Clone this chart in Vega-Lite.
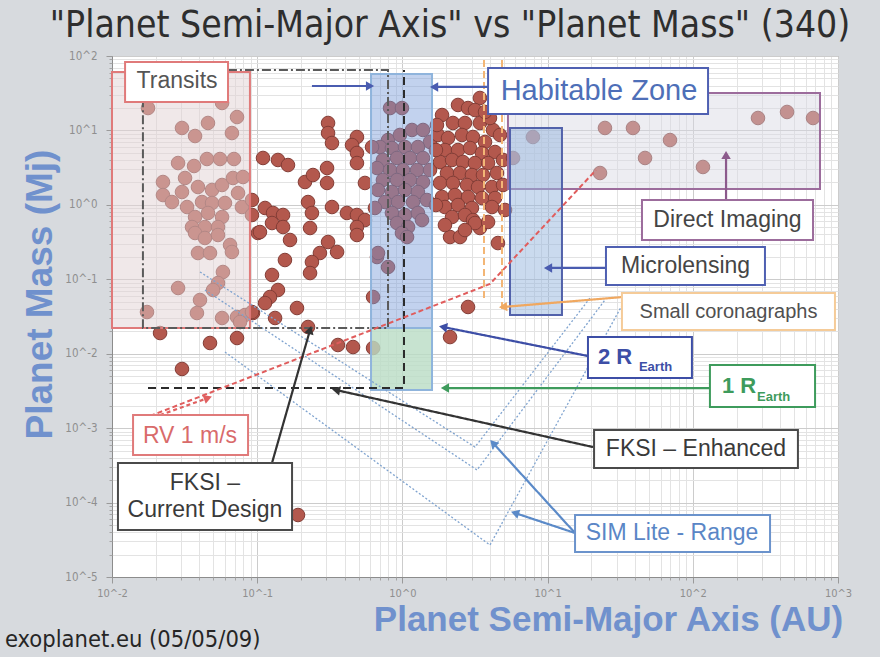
{
  "$schema": "https://vega.github.io/schema/vega-lite/v6.json",
  "width": 726,
  "height": 521,
  "autosize": {"type": "none"},
  "padding": {"left": 112, "top": 56, "right": 42, "bottom": 80},
  "background": "#d7dade",
  "title": {"text": "\"Planet Semi-Major Axis\"  vs \"Planet Mass\" (340)", "font": "Liberation Sans Narrow, DejaVu Sans Condensed, sans-serif", "fontSize": 37, "fontWeight": "normal", "color": "#2e2e2e", "anchor": "middle", "dx": -25, "offset": 5},
  "config": {"view": {"fill": "#ffffff", "stroke": "#a5a5a5"}},
  "resolve": {"scale": {"color": "independent", "stroke": "independent", "fill": "independent", "strokeDash": "independent"}, "axis": {"x": "independent", "y": "independent"}},
  "datasets": {
    "planets": [
      {"logA":-1.752,"logM":1.301},{"logA":-1.242,"logM":1.369},{"logA":-1.139,"logM":1.180},{"logA":-1.339,"logM":1.100},{"logA":-1.518,"logM":1.033},{"logA":-1.428,"logM":0.925},{"logA":-1.174,"logM":0.965},{"logA":-1.545,"logM":0.562},{"logA":-1.435,"logM":0.522},{"logA":-1.346,"logM":0.616},{"logA":-1.256,"logM":0.616},{"logA":-1.160,"logM":0.616},{"logA":-1.649,"logM":0.307},{"logA":-1.497,"logM":0.361},{"logA":-1.518,"logM":0.173},{"logA":-1.408,"logM":0.240},{"logA":-1.311,"logM":0.200},{"logA":-1.242,"logM":0.267},{"logA":-1.167,"logM":0.361},{"logA":-1.098,"logM":0.374},{"logA":-1.649,"logM":0.132},{"logA":-1.587,"logM":0.038},{"logA":-1.483,"logM":-0.029},{"logA":-1.380,"logM":0.038},{"logA":-1.311,"logM":0.025},{"logA":-1.222,"logM":0.025},{"logA":-1.132,"logM":0.159},{"logA":-1.105,"logM":-0.029},{"logA":-1.428,"logM":-0.163},{"logA":-1.339,"logM":-0.109},{"logA":-1.242,"logM":-0.163},{"logA":-1.449,"logM":-0.298},{"logA":-1.360,"logM":-0.298},{"logA":-1.270,"logM":-0.298},{"logA":-1.428,"logM":-0.378},{"logA":-1.360,"logM":-0.445},{"logA":-1.270,"logM":-0.405},{"logA":-1.187,"logM":-0.539},{"logA":-1.174,"logM":-0.633},{"logA":-1.408,"logM":-0.647},{"logA":-1.325,"logM":-0.647},{"logA":-1.236,"logM":-0.902},{"logA":-1.270,"logM":-1.050},{"logA":-1.304,"logM":-1.144},{"logA":-1.545,"logM":-1.117},{"logA":-1.394,"logM":-1.278},{"logA":-1.415,"logM":-1.453},{"logA":-1.759,"logM":-1.440},{"logA":-1.242,"logM":-1.520},{"logA":-1.139,"logM":-1.507},{"logA":-1.084,"logM":-1.480},{"logA":-1.118,"logM":-1.574},
      {"logA":-1.669,"logM":-1.722},{"logA":-1.139,"logM":-1.789},{"logA":-1.325,"logM":-1.856},{"logA":-1.518,"logM":-2.205},{"logA":-0.719,"logM":-4.167},{"logA":-0.995,"logM":-0.378},
      {"logA":-0.512,"logM":1.100},{"logA":-0.512,"logM":0.965},{"logA":-0.485,"logM":0.831},{"logA":-0.313,"logM":0.912},{"logA":-0.347,"logM":0.804},{"logA":-0.313,"logM":0.697},{"logA":-0.313,"logM":0.562},{"logA":-0.960,"logM":0.630},{"logA":-0.857,"logM":0.603},{"logA":-0.788,"logM":0.535},{"logA":-0.671,"logM":0.307},{"logA":-0.616,"logM":0.401},{"logA":-0.519,"logM":0.495},{"logA":-0.519,"logM":0.294},{"logA":-0.258,"logM":0.294},{"logA":-1.036,"logM":0.065},{"logA":-1.036,"logM":-0.136},{"logA":-0.946,"logM":-0.042},{"logA":-0.891,"logM":-0.109},{"logA":-0.822,"logM":-0.136},{"logA":-0.898,"logM":-0.244},{"logA":-0.822,"logM":-0.298},{"logA":-0.981,"logM":-0.365},{"logA":-0.774,"logM":-0.472},{"logA":-0.650,"logM":0.038},{"logA":-0.623,"logM":-0.109},{"logA":-0.636,"logM":-0.311},{"logA":-0.485,"logM":-0.029},{"logA":-0.382,"logM":-0.109},{"logA":-0.313,"logM":-0.136},{"logA":-0.258,"logM":-0.204},{"logA":-0.313,"logM":-0.298},{"logA":-0.313,"logM":-0.405},{"logA":-0.512,"logM":-0.499},{"logA":-0.450,"logM":-0.633},{"logA":-0.568,"logM":-0.647},{"logA":-0.623,"logM":-0.768},{"logA":-0.636,"logM":-0.916},{"logA":-0.809,"logM":-0.741},{"logA":-0.898,"logM":-0.942},{"logA":-0.857,"logM":-1.144},{"logA":-0.912,"logM":-1.238},{"logA":-0.946,"logM":-1.319},{"logA":-1.029,"logM":-1.453},{"logA":-0.877,"logM":-1.520},{"logA":-0.726,"logM":-1.386},{"logA":-0.650,"logM":-1.641},{"logA":-0.444,"logM":-1.883},{"logA":-0.340,"logM":-1.910},{"logA":-0.202,"logM":-1.238},{"logA":-0.202,"logM":-1.923},{"logA":-0.175,"logM":-0.701},{"logA":-0.099,"logM":-0.835},{"logA":-1.036,"logM":-1.440},
      {"logA":-0.085,"logM":1.301},{"logA":-0.003,"logM":1.301},{"logA":-0.099,"logM":0.871},{"logA":-0.017,"logM":0.939},{"logA":0.066,"logM":1.006},{"logA":0.142,"logM":1.006},{"logA":0.190,"logM":0.845},{"logA":-0.154,"logM":0.777},{"logA":-0.209,"logM":0.777},{"logA":-0.072,"logM":0.764},{"logA":0.018,"logM":0.777},{"logA":0.107,"logM":0.777},{"logA":-0.134,"logM":0.603},{"logA":-0.037,"logM":0.630},{"logA":0.052,"logM":0.630},{"logA":0.142,"logM":0.630},{"logA":-0.175,"logM":0.495},{"logA":-0.085,"logM":0.468},{"logA":0.004,"logM":0.468},{"logA":0.101,"logM":0.468},{"logA":0.190,"logM":0.468},{"logA":-0.134,"logM":0.334},{"logA":-0.037,"logM":0.334},{"logA":0.052,"logM":0.334},{"logA":0.142,"logM":0.307},{"logA":-0.168,"logM":0.200},{"logA":-0.072,"logM":0.173},{"logA":0.018,"logM":0.200},{"logA":0.107,"logM":0.173},{"logA":-0.120,"logM":0.038},{"logA":-0.030,"logM":0.038},{"logA":0.073,"logM":0.038},{"logA":0.169,"logM":0.065},{"logA":-0.189,"logM":-0.042},{"logA":-0.072,"logM":-0.109},{"logA":0.018,"logM":-0.136},{"logA":0.107,"logM":-0.109},{"logA":-0.037,"logM":-0.244},{"logA":0.039,"logM":-0.298},{"logA":0.135,"logM":-0.204},{"logA":-0.003,"logM":-0.378},{"logA":0.032,"logM":-0.432},{"logA":-0.168,"logM":-0.647},
      {"logA":0.383,"logM":1.342},{"logA":0.452,"logM":1.301},{"logA":0.534,"logM":1.436},{"logA":0.500,"logM":1.274},{"logA":0.273,"logM":1.207},{"logA":0.348,"logM":1.100},{"logA":0.431,"logM":1.100},{"logA":0.534,"logM":1.100},{"logA":0.624,"logM":1.006},{"logA":0.672,"logM":0.939},{"logA":0.245,"logM":0.939},{"logA":0.314,"logM":0.898},{"logA":0.410,"logM":0.939},{"logA":0.486,"logM":0.912},{"logA":0.569,"logM":0.845},{"logA":0.293,"logM":0.737},{"logA":0.383,"logM":0.737},{"logA":0.466,"logM":0.764},{"logA":0.548,"logM":0.697},{"logA":0.638,"logM":0.710},{"logA":0.259,"logM":0.576},{"logA":0.342,"logM":0.603},{"logA":0.417,"logM":0.576},{"logA":0.500,"logM":0.562},{"logA":0.590,"logM":0.562},{"logA":0.307,"logM":0.428},{"logA":0.397,"logM":0.428},{"logA":0.479,"logM":0.401},{"logA":0.555,"logM":0.401},{"logA":0.651,"logM":0.428},{"logA":0.259,"logM":0.294},{"logA":0.348,"logM":0.294},{"logA":0.445,"logM":0.267},{"logA":0.521,"logM":0.240},{"logA":0.617,"logM":0.240},{"logA":0.273,"logM":0.106},{"logA":0.362,"logM":0.132},{"logA":0.452,"logM":0.106},{"logA":0.548,"logM":0.092},{"logA":0.638,"logM":0.092},{"logA":0.293,"logM":-0.029},{"logA":0.383,"logM":-0.002},{"logA":0.479,"logM":-0.042},{"logA":0.342,"logM":-0.163},{"logA":0.431,"logM":-0.136},{"logA":0.486,"logM":-0.204},{"logA":0.617,"logM":-0.029},{"logA":0.534,"logM":-0.311},{"logA":0.500,"logM":-0.244},{"logA":0.328,"logM":-0.432},{"logA":0.397,"logM":-0.432},{"logA":0.658,"logM":-0.513},
      {"logA":0.238,"logM":1.073},{"logA":0.603,"logM":1.167},{"logA":0.693,"logM":0.603},{"logA":0.693,"logM":0.267},{"logA":0.231,"logM":0.737},{"logA":0.231,"logM":-0.002},{"logA":0.293,"logM":-0.271},{"logA":0.431,"logM":-0.338},{"logA":0.590,"logM":-0.230},{"logA":0.707,"logM":-0.069},{"logA":0.569,"logM":1.248},
      {"logA":0.899,"logM":0.912},{"logA":0.762,"logM":0.630},{"logA":1.395,"logM":1.033},{"logA":1.588,"logM":1.033},{"logA":1.671,"logM":0.630},{"logA":1.361,"logM":0.428},{"logA":1.843,"logM":0.871},{"logA":2.070,"logM":0.509},{"logA":2.449,"logM":1.167},{"logA":2.649,"logM":1.248},{"logA":2.828,"logM":1.167},{"logA":0.452,"logM":-1.372},{"logA":0.328,"logM":-1.776}
    ],
    "regions": [
      {"name":"transits","x1":-2,"x2":-1.050,"y1":1.785,"y2":-1.655},
      {"name":"hz","x1":-0.216,"x2":0.204,"y1":1.758,"y2":-1.655},
      {"name":"earth","x1":-0.216,"x2":0.204,"y1":-1.655,"y2":-2.488},
      {"name":"di","x1":0.727,"x2":2.876,"y1":1.503,"y2":0.213},
      {"name":"micro","x1":0.741,"x2":1.099,"y1":1.033,"y2":-1.480}
    ],
    "paths": [
      {"name":"fksic","o":0,"x":-1.787,"y":1.812},{"name":"fksic","o":1,"x":-0.099,"y":1.812},{"name":"fksic","o":2,"x":-0.099,"y":-1.655},{"name":"fksic","o":3,"x":-1.787,"y":-1.655},{"name":"fksic","o":4,"x":-1.787,"y":1.812},
      {"name":"fksie","o":0,"x":-1.752,"y":-2.461},{"name":"fksie","o":1,"x":0.011,"y":-2.461},{"name":"fksie","o":2,"x":0.011,"y":1.812},
      {"name":"rv","o":0,"x":-1.738,"y":-2.837},{"name":"rv","o":1,"x":0.603,"y":-1.063},{"name":"rv","o":2,"x":1.333,"y":0.468}
    ],
    "sim": [
      {"v":"1","o":0,"x":-1.394,"y":-0.902},{"v":"1","o":1,"x":0.500,"y":-3.254},{"v":"1","o":2,"x":1.292,"y":-1.252},
      {"v":"2","o":0,"x":-1.360,"y":-1.144},{"v":"2","o":1,"x":0.514,"y":-3.562},{"v":"2","o":2,"x":1.395,"y":-1.278},
      {"v":"3","o":0,"x":-1.222,"y":-1.977},{"v":"3","o":1,"x":0.603,"y":-4.570},{"v":"3","o":2,"x":1.533,"y":-1.278}
    ],
    "coronagraph": [
      {"x":0.562,"y1":1.946,"y2":-1.278},{"x":0.686,"y1":1.946,"y2":-1.453}
    ],
    "boxes": [
      {"name":"transits","x1":-1.910,"x2":-1.201,"y1":1.919,"y2":1.382},
      {"name":"hz","x1":0.590,"x2":2.105,"y1":1.839,"y2":1.221},
      {"name":"micro","x1":1.402,"x2":2.497,"y1":-0.566,"y2":-1.077},
      {"name":"di","x1":1.650,"x2":2.828,"y1":0.065,"y2":-0.472},
      {"name":"smallcor","x1":1.512,"x2":2.979,"y1":-1.184,"y2":-1.681},
      {"name":"r2","x1":1.278,"x2":1.994,"y1":-1.776,"y2":-2.326},
      {"name":"r1","x1":2.118,"x2":2.842,"y1":-2.152,"y2":-2.716},
      {"name":"fksie","x1":1.320,"x2":2.724,"y1":-3.025,"y2":-3.536},
      {"name":"fksic","x1":-1.959,"x2":-0.760,"y1":-3.468,"y2":-4.369},
      {"name":"rv","x1":-1.855,"x2":-1.063,"y1":-2.824,"y2":-3.361},
      {"name":"sim","x1":1.189,"x2":2.532,"y1":-4.167,"y2":-4.664}
    ],
    "arrows": [
      {"name":"hz","x1":0.590,"y1":1.584,"x2":0.218,"y2":1.584,"dir":180},
      {"name":"hz","x1":-0.623,"y1":1.597,"x2":-0.223,"y2":1.597,"dir":0},
      {"name":"micro","x1":1.402,"y1":-0.848,"x2":1.003,"y2":-0.848,"dir":180},
      {"name":"di","x1":2.229,"y1":0.065,"x2":2.229,"y2":0.670,"dir":270},
      {"name":"smallcor","x1":1.519,"y1":-1.238,"x2":0.693,"y2":-1.372,"dir":175},
      {"name":"r2","x1":1.278,"y1":-2.031,"x2":0.280,"y2":-1.641,"dir":191},
      {"name":"r1","x1":2.118,"y1":-2.461,"x2":0.293,"y2":-2.461,"dir":180},
      {"name":"fksie","x1":1.313,"y1":-3.254,"x2":-0.457,"y2":-2.488,"dir":192},
      {"name":"fksic","x1":-0.898,"y1":-3.468,"x2":-0.636,"y2":-1.681,"dir":286},
      {"name":"rv","x1":-1.669,"y1":-2.824,"x2":-1.339,"y2":-2.595,"dir":340},
      {"name":"sim","x1":1.189,"y1":-4.409,"x2":0.624,"y2":-3.200,"dir":228},
      {"name":"sim","x1":1.189,"y1":-4.409,"x2":0.775,"y2":-4.140,"dir":198}
    ],
    "labels": [
      {"name":"transits","text":"Transits","x":-1.552,"y":1.664},
      {"name":"hz","text":"Habitable Zone","x":1.354,"y":1.530},
      {"name":"micro","text":"Microlensing","x":1.950,"y":-0.822},
      {"name":"di","text":"Direct Imaging","x":2.239,"y":-0.204},
      {"name":"smallcor","text":"Small coronagraphs","x":2.246,"y":-1.433},
      {"name":"fksie","text":"FKSI – Enhanced","x":2.022,"y":-3.280},
      {"name":"fksic","text":"FKSI –\nCurrent Design","x":-1.360,"y":-3.740},
      {"name":"rv","text":"RV 1 m/s","x":-1.463,"y":-3.106},
      {"name":"sim","text":"SIM Lite - Range","x":1.857,"y":-4.409},
      {"name":"r2","text":"2  R","x":1.347,"y":-2.044},
      {"name":"r1","text":"1 R","x":2.201,"y":-2.434},
      {"name":"r2sub","text":"Earth","x":1.629,"y":-2.179},
      {"name":"r1sub","text":"Earth","x":2.442,"y":-2.582},
      {"name":"footer","text":"exoplanet.eu (05/05/09)","x":-2.737,"y":-5.847}
    ]
  },
  "layer": [
    {
      "data": {"name": "planets"},
      "mark": {"type": "circle", "size": 185, "fill": "#b3584d", "stroke": "#833d36", "strokeWidth": 1, "opacity": 1},
      "encoding": {
        "x": {"field": "logA", "type": "quantitative", "scale": {"domain": [-2, 3], "nice": false, "zero": false},
          "axis": {"orient": "bottom", "title": "Planet Semi-Major Axis (AU)", "titleFont": "Liberation Sans, sans-serif", "titleFontSize": 35, "titleFontWeight": "bold", "titleColor": "#7091cd", "titleX": 496, "titleY": 42, "titleAlign": "center", "titleBaseline": "middle",
            "values": [-2, -1, 0, 1, 2, 3],
            "labelExpr": "'10^' + round(datum.value)",
            "labelFont": "Liberation Sans Narrow, DejaVu Sans Condensed, sans-serif", "labelFontSize": 11, "labelColor": "#8f8f8f", "labelPadding": 4, "labelOverlap": false, "labelFlush": false,
            "grid": true, "gridColor": "#cccccc", "tickColor": "#9a9a9a", "tickSize": 6, "domainColor": "#8c8c8c"}},
        "y": {"field": "logM", "type": "quantitative", "scale": {"domain": [-5, 2], "nice": false, "zero": false},
          "axis": {"orient": "left", "title": "Planet Mass (Mj)", "titleFont": "Liberation Sans, sans-serif", "titleFontSize": 37, "titleFontWeight": "bold", "titleColor": "#7091cd", "titleX": -72, "titleY": 238, "titleAlign": "center", "titleBaseline": "middle", "titleAngle": -90,
            "values": [-5, -4, -3, -2, -1, 0, 1, 2],
            "labelExpr": "'10^' + round(datum.value)",
            "labelFont": "Liberation Sans Narrow, DejaVu Sans Condensed, sans-serif", "labelFontSize": 11.5, "labelColor": "#8f8f8f", "labelPadding": 9, "labelOverlap": false, "labelFlush": false,
            "grid": true, "gridColor": "#cccccc", "tickColor": "#9a9a9a", "tickSize": 6, "domainColor": "#8c8c8c"}}
      }
    },
    {
      "data": {"name": "regions"},
      "mark": {"type": "rect", "strokeWidth": 2},
      "encoding": {
        "x": {"field": "x1", "type": "quantitative", "scale": {"domain": [-2, 3], "nice": false, "zero": false},
          "axis": {"orient": "bottom", "title": null, "labels": false, "domain": false, "grid": true, "gridColor": "#e3e3e3", "tickColor": "#a5a5a5", "tickSize": 3,
            "values": [-1.699,-1.523,-1.398,-1.301,-1.222,-1.155,-1.097,-1.046,-0.699,-0.523,-0.398,-0.301,-0.222,-0.155,-0.097,-0.046,0.301,0.477,0.602,0.699,0.778,0.845,0.903,0.954,1.301,1.477,1.602,1.699,1.778,1.845,1.903,1.954,2.301,2.477,2.602,2.699,2.778,2.845,2.903,2.954]}},
        "x2": {"field": "x2"},
        "y": {"field": "y1", "type": "quantitative", "scale": {"domain": [-5, 2], "nice": false, "zero": false},
          "axis": {"orient": "left", "title": null, "labels": false, "domain": false, "grid": true, "gridColor": "#e3e3e3", "tickColor": "#a5a5a5", "tickSize": 3,
            "values": [-4.699,-4.523,-4.398,-4.301,-4.222,-4.155,-4.097,-4.046,-3.699,-3.523,-3.398,-3.301,-3.222,-3.155,-3.097,-3.046,-2.699,-2.523,-2.398,-2.301,-2.222,-2.155,-2.097,-2.046,-1.699,-1.523,-1.398,-1.301,-1.222,-1.155,-1.097,-1.046,-0.699,-0.523,-0.398,-0.301,-0.222,-0.155,-0.097,-0.046,0.301,0.477,0.602,0.699,0.778,0.845,0.903,0.954,1.301,1.477,1.602,1.699,1.778,1.845,1.903,1.954]}},
        "y2": {"field": "y2"},
        "fill": {"field": "name", "type": "nominal", "legend": null, "scale": {"domain": ["transits","hz","earth","di","micro"], "range": ["rgba(226,210,212,0.5)","rgba(120,155,218,0.45)","rgba(185,220,196,0.8)","rgba(214,214,226,0.45)","rgba(150,182,222,0.5)"]}},
        "stroke": {"field": "name", "type": "nominal", "legend": null, "scale": {"domain": ["transits","hz","earth","di","micro"], "range": ["#e07a7a","#8fb4dc","#8fb4dc","#9c6c9c","#5262ab"]}}
      }
    },
    {
      "data": {"name": "coronagraph"},
      "mark": {"type": "rule", "stroke": "#f3b676", "strokeWidth": 2, "strokeDash": [7, 4]},
      "encoding": {
        "x": {"field": "x", "type": "quantitative", "scale": {"domain": [-2, 3], "nice": false, "zero": false}, "axis": null},
        "y": {"field": "y1", "type": "quantitative", "scale": {"domain": [-5, 2], "nice": false, "zero": false}, "axis": null},
        "y2": {"field": "y2"}
      }
    },
    {
      "data": {"name": "sim"},
      "mark": {"type": "line", "stroke": "#7fa3cf", "strokeWidth": 1.3, "strokeDash": [2, 2]},
      "encoding": {
        "x": {"field": "x", "type": "quantitative", "scale": {"domain": [-2, 3], "nice": false, "zero": false}, "axis": null},
        "y": {"field": "y", "type": "quantitative", "scale": {"domain": [-5, 2], "nice": false, "zero": false}, "axis": null},
        "detail": {"field": "v", "type": "nominal"},
        "order": {"field": "o", "type": "quantitative"}
      }
    },
    {
      "data": {"name": "paths"},
      "mark": {"type": "line", "strokeWidth": 2},
      "encoding": {
        "x": {"field": "x", "type": "quantitative", "scale": {"domain": [-2, 3], "nice": false, "zero": false}, "axis": null},
        "y": {"field": "y", "type": "quantitative", "scale": {"domain": [-5, 2], "nice": false, "zero": false}, "axis": null},
        "color": {"field": "name", "type": "nominal", "legend": null, "scale": {"domain": ["fksic","fksie","rv"], "range": ["#5a5a5a","#2b2b2b","#e05c5c"]}},
        "strokeDash": {"field": "name", "type": "nominal", "legend": null, "scale": {"domain": ["fksic","fksie","rv"], "range": [[9,3,2,3],[8,5],[5,3]]}},
        "order": {"field": "o", "type": "quantitative"}
      }
    },
    {
      "data": {"name": "arrows"},
      "mark": {"type": "rule", "strokeWidth": 2.2},
      "encoding": {
        "x": {"field": "x1", "type": "quantitative", "scale": {"domain": [-2, 3], "nice": false, "zero": false}, "axis": null},
        "y": {"field": "y1", "type": "quantitative", "scale": {"domain": [-5, 2], "nice": false, "zero": false}, "axis": null},
        "x2": {"field": "x2"},
        "y2": {"field": "y2"},
        "color": {"field": "name", "type": "nominal", "legend": null, "scale": {"domain": ["hz","micro","di","smallcor","r2","r1","fksie","fksic","rv","sim"], "range": ["#4a5cb0","#4a5cb0","#8c5a8c","#f0a860","#3d4ea6","#3e9b5c","#333333","#333333","#e06060","#5b8ac8"]}},
        "strokeDash": {"condition": {"test": "datum.name === 'rv'", "value": [4, 3]}, "value": [1, 0]}
      }
    },
    {
      "data": {"name": "arrows"},
      "mark": {"type": "point", "shape": "triangle-right", "filled": true, "size": 90, "opacity": 1},
      "encoding": {
        "x": {"field": "x2", "type": "quantitative", "scale": {"domain": [-2, 3], "nice": false, "zero": false}, "axis": null},
        "y": {"field": "y2", "type": "quantitative", "scale": {"domain": [-5, 2], "nice": false, "zero": false}, "axis": null},
        "angle": {"field": "dir", "type": "quantitative", "scale": null},
        "color": {"field": "name", "type": "nominal", "legend": null, "scale": {"domain": ["hz","micro","di","smallcor","r2","r1","fksie","fksic","rv","sim"], "range": ["#4a5cb0","#4a5cb0","#8c5a8c","#f0a860","#3d4ea6","#3e9b5c","#333333","#333333","#e06060","#5b8ac8"]}}
      }
    },
    {
      "data": {"name": "boxes"},
      "mark": {"type": "rect", "fill": "#ffffff", "strokeWidth": 2},
      "encoding": {
        "x": {"field": "x1", "type": "quantitative", "scale": {"domain": [-2, 3], "nice": false, "zero": false}, "axis": null},
        "x2": {"field": "x2"},
        "y": {"field": "y1", "type": "quantitative", "scale": {"domain": [-5, 2], "nice": false, "zero": false}, "axis": null},
        "y2": {"field": "y2"},
        "stroke": {"field": "name", "type": "nominal", "legend": null, "scale": {"domain": ["transits","hz","micro","di","smallcor","r2","r1","fksie","fksic","rv","sim"], "range": ["#e07a7a","#4f60b2","#4f60b2","#9c6c9c","#f5cb98","#3d4ea6","#3e9b5c","#4a4a4a","#4a4a4a","#e07a7a","#6b93cc"]}}
      }
    },
    {
      "data": {"name": "labels"},
      "transform": [{"filter": "indexof(['transits','micro','di','fksie','fksic','rv','sim'], datum.name) >= 0"}],
      "mark": {"type": "text", "font": "Liberation Sans, sans-serif", "fontSize": 23, "align": "center", "baseline": "middle", "lineBreak": "\n", "lineHeight": 27},
      "encoding": {
        "x": {"field": "x", "type": "quantitative", "scale": {"domain": [-2, 3], "nice": false, "zero": false}, "axis": null},
        "y": {"field": "y", "type": "quantitative", "scale": {"domain": [-5, 2], "nice": false, "zero": false}, "axis": null},
        "text": {"field": "text"},
        "color": {"field": "name", "type": "nominal", "legend": null, "scale": {"domain": ["transits","micro","di","fksie","fksic","rv","sim"], "range": ["#555555","#454545","#454545","#3a3a3a","#3a3a3a","#d96b6b","#5a86c6"]}}
      }
    },
    {
      "data": {"name": "labels"},
      "transform": [{"filter": "datum.name === 'hz'"}],
      "mark": {"type": "text", "font": "Liberation Sans, sans-serif", "fontSize": 29, "align": "center", "baseline": "middle", "color": "#4e6fb8"},
      "encoding": {
        "x": {"field": "x", "type": "quantitative", "scale": {"domain": [-2, 3], "nice": false, "zero": false}, "axis": null},
        "y": {"field": "y", "type": "quantitative", "scale": {"domain": [-5, 2], "nice": false, "zero": false}, "axis": null},
        "text": {"field": "text"}
      }
    },
    {
      "data": {"name": "labels"},
      "transform": [{"filter": "datum.name === 'smallcor'"}],
      "mark": {"type": "text", "font": "Liberation Sans, sans-serif", "fontSize": 20, "align": "center", "baseline": "middle", "color": "#505050"},
      "encoding": {
        "x": {"field": "x", "type": "quantitative", "scale": {"domain": [-2, 3], "nice": false, "zero": false}, "axis": null},
        "y": {"field": "y", "type": "quantitative", "scale": {"domain": [-5, 2], "nice": false, "zero": false}, "axis": null},
        "text": {"field": "text"}
      }
    },
    {
      "data": {"name": "labels"},
      "transform": [{"filter": "indexof(['r2','r1'], datum.name) >= 0"}],
      "mark": {"type": "text", "font": "Liberation Sans, sans-serif", "fontSize": 22, "fontWeight": "bold", "align": "left", "baseline": "middle"},
      "encoding": {
        "x": {"field": "x", "type": "quantitative", "scale": {"domain": [-2, 3], "nice": false, "zero": false}, "axis": null},
        "y": {"field": "y", "type": "quantitative", "scale": {"domain": [-5, 2], "nice": false, "zero": false}, "axis": null},
        "text": {"field": "text"},
        "color": {"field": "name", "type": "nominal", "legend": null, "scale": {"domain": ["r2","r1"], "range": ["#3d4ea6","#3e9b5c"]}}
      }
    },
    {
      "data": {"name": "labels"},
      "transform": [{"filter": "indexof(['r2sub','r1sub'], datum.name) >= 0"}],
      "mark": {"type": "text", "font": "Liberation Sans, sans-serif", "fontSize": 13, "fontWeight": "bold", "align": "left", "baseline": "middle"},
      "encoding": {
        "x": {"field": "x", "type": "quantitative", "scale": {"domain": [-2, 3], "nice": false, "zero": false}, "axis": null},
        "y": {"field": "y", "type": "quantitative", "scale": {"domain": [-5, 2], "nice": false, "zero": false}, "axis": null},
        "text": {"field": "text"},
        "color": {"field": "name", "type": "nominal", "legend": null, "scale": {"domain": ["r2sub","r1sub"], "range": ["#3d4ea6","#3e9b5c"]}}
      }
    },
    {
      "data": {"name": "labels"},
      "transform": [{"filter": "datum.name === 'footer'"}],
      "mark": {"type": "text", "font": "Liberation Sans Narrow, DejaVu Sans Condensed, sans-serif", "fontSize": 23.5, "align": "left", "baseline": "middle", "color": "#262626"},
      "encoding": {
        "x": {"field": "x", "type": "quantitative", "scale": {"domain": [-2, 3], "nice": false, "zero": false}, "axis": null},
        "y": {"field": "y", "type": "quantitative", "scale": {"domain": [-5, 2], "nice": false, "zero": false}, "axis": null},
        "text": {"field": "text"}
      }
    }
  ]
}
